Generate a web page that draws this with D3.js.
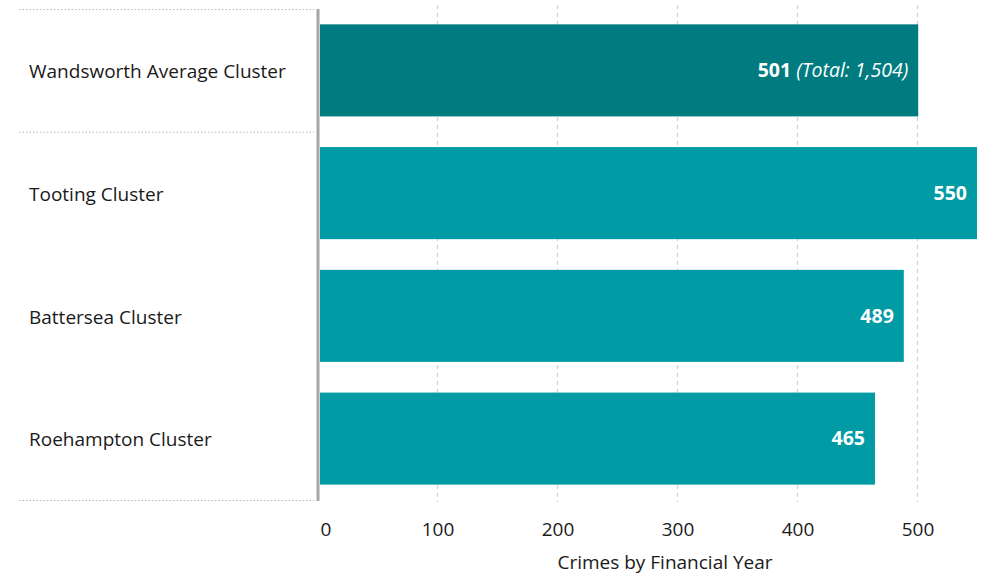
<!DOCTYPE html>
<html><head><meta charset="utf-8">
<script src="https://cdn.jsdelivr.net/npm/d3@7"></script>
<style>
body{margin:0;background:#fff;}
text{font-family:"Open Sans","Noto Sans",sans-serif;}
</style></head>
<body>
<svg id="chart" width="985" height="574"></svg>
<script>
const categories = ["Wandsworth Average Cluster","Tooting Cluster","Battersea Cluster","Roehampton Cluster"];
const values = [501, 550, 489, 465];
const totals = [1504, null, null, null];
const ticks = [0,100,200,300,400,500];
const axisTitle = "Crimes by Financial Year";

const svg = d3.select("#chart");
const x = d3.scaleLinear().domain([0,100]).range([317,437]);
const y = d3.scaleBand().domain(categories).range([9,500]).paddingInner(0.25).paddingOuter(0.125);

// vertical gridlines
svg.append("g").selectAll("line").data(ticks.slice(1)).join("line")
  .attr("x1",d=>x(d)+0.5).attr("x2",d=>x(d)+0.5)
  .attr("y1",5).attr("y2",502)
  .attr("stroke","#d0d0d0").attr("stroke-width",1.2).attr("stroke-dasharray","4,4");

// category separators
const seps = [9, y.range()[0] + y.step(), 500];
svg.append("g").selectAll("line").data(seps).join("line")
  .attr("x1",19).attr("x2",314).attr("y1",d=>d+0.5).attr("y2",d=>d+0.5)
  .attr("stroke","#b8b8b8").attr("stroke-width",1.2).attr("stroke-dasharray","1.5,2");

// bars
svg.append("g").selectAll("rect").data(categories).join("rect")
  .attr("x",x(0)+3).attr("y",d=>y(d))
  .attr("width",(d,i)=>x(values[i])-x(0)-3)
  .attr("height",y.bandwidth())
  .attr("fill",(d,i)=>i===0?"#007B7F":"#009BA4");

// axis line
svg.append("line").attr("x1",x(0)+1).attr("x2",x(0)+1).attr("y1",9).attr("y2",501)
  .attr("stroke","#a6a6a6").attr("stroke-width",3);

// category labels
svg.append("g").selectAll("text").data(categories).join("text")
  .attr("x",29).attr("y",d=>y(d)+y.bandwidth()/2+1).attr("dy","0.35em")
  .attr("font-size",19).attr("fill","#1a1a1a").text(d=>d);

// value labels
const vl = svg.append("g").selectAll("text").data(categories).join("text")
  .attr("x",(d,i)=>x(values[i])-10).attr("y",d=>y(d)+y.bandwidth()/2).attr("dy","0.35em")
  .attr("text-anchor","end").attr("font-size",19.5).attr("fill","#fff");
vl.append("tspan").attr("font-weight","bold").text((d,i)=>d3.format(",")(values[i]));
vl.filter((d,i)=>totals[i]!=null).append("tspan").attr("font-style","italic")
  .text((d,i)=>" (Total: "+d3.format(",")(totals[categories.indexOf(d)])+")");

// tick labels
svg.append("g").selectAll("text").data(ticks).join("text")
  .attr("x",d=>d===0?x(d)+9:x(d)+1).attr("y",536).attr("text-anchor","middle")
  .attr("font-size",19).attr("fill","#1a1a1a").text(d=>d);

svg.append("text").attr("x",665).attr("y",569).attr("text-anchor","middle")
  .attr("font-size",19).attr("fill","#1a1a1a").text(axisTitle);
</script>
</body></html>
